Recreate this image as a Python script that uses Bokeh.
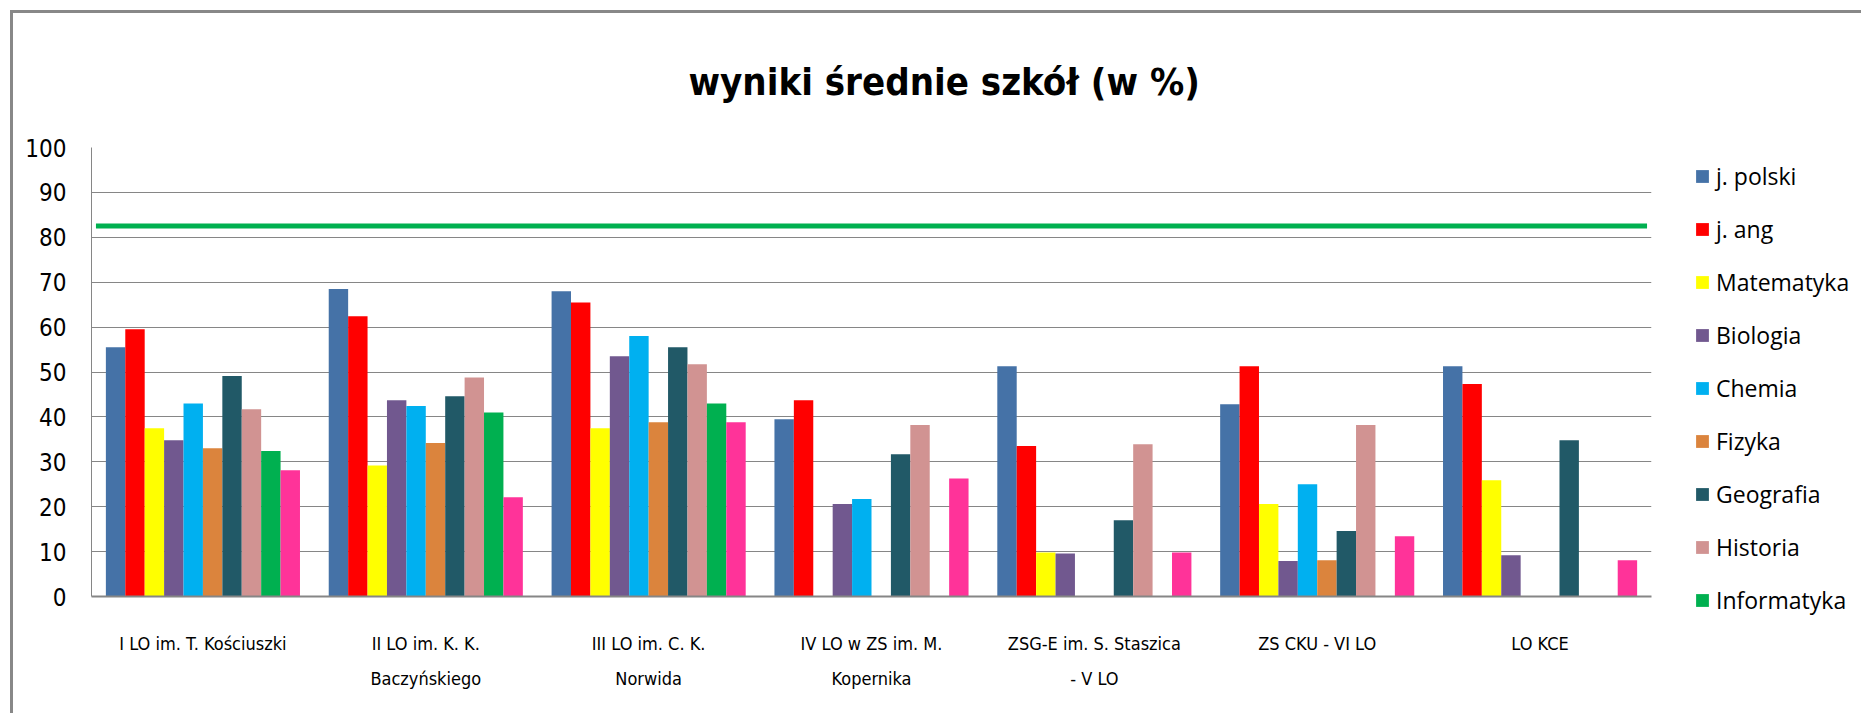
import math
from bokeh.plotting import figure
from bokeh.models import FactorRange, ColumnDataSource, Legend, LegendItem, Range1d, FixedTicker
from bokeh.transform import dodge
from bokeh.embed import file_html
from bokeh.resources import INLINE

nan = float("nan")

schools = [
    "I LO im. T. Kościuszki",
    "II LO im. K. K.\nBaczyńskiego",
    "III LO im. C. K.\nNorwida",
    "IV LO w ZS im. M.\nKopernika",
    "ZSG-E im. S. Staszica\n- V LO",
    "ZS CKU - VI LO",
    "LO KCE",
]

subjects = ["j. polski", "j. ang", "Matematyka", "Biologia", "Chemia",
            "Fizyka", "Geografia", "Historia", "Informatyka"]

j_polski    = [55.5, 68.5, 68.0, 39.5, 51.3, 42.8, 51.3]
j_ang       = [59.5, 62.4, 65.5, 43.7, 33.5, 51.3, 47.3]
matematyka  = [37.5, 29.2, 37.5, nan, 9.8, 20.6, 25.9]
biologia    = [34.8, 43.7, 53.5, 20.6, 9.6, 7.9, 9.2]
chemia      = [43.0, 42.4, 58.0, 21.7, nan, 25.0, nan]
fizyka      = [33.0, 34.2, 38.8, nan, nan, 8.1, nan]
geografia   = [49.1, 44.6, 55.5, 31.7, 17.0, 14.6, 34.8]
historia    = [41.7, 48.8, 51.7, 38.2, 33.9, 38.2, nan]
informatyka = [32.4, 41.0, 43.0, nan, nan, nan, nan]
seria_10    = [28.1, 22.1, 38.8, 26.3, 9.8, 13.4, 8.1]   # magenta series (no legend entry visible)

green_line_value = 82.5

colors = ["#4572A7", "#FF0000", "#FFFF00", "#71588F", "#00B0F0",
          "#DB843D", "#215967", "#D19392", "#00B050", "#FF3399"]

series = [j_polski, j_ang, matematyka, biologia, chemia, fizyka,
          geografia, historia, informatyka, seria_10]
keys = ["s%d" % i for i in range(len(series))]

data = {"school": schools}
for k, s in zip(keys, series):
    data[k] = s
source = ColumnDataSource(data)

NARROW = "'Liberation Sans Narrow', 'DejaVu Sans Condensed', 'Liberation Sans', sans-serif"

p = figure(
    x_range=FactorRange(*schools, range_padding=0),
    y_range=Range1d(0, 100),
    frame_width=1560, frame_height=449,
    output_backend="svg", toolbar_location=None,
    min_border_left=78, min_border_right=100,
    min_border_top=100, min_border_bottom=117,
)
p.styles = {"border-left": "3px solid #888888", "border-top": "3px solid #888888",
            "margin-left": "10px", "margin-top": "10px"}

p.title.text = "wyniki średnie szkół (w %)"
p.title.text_font = NARROW
p.title.text_font_size = "38px"
p.title.text_font_style = "bold"
p.title.text_color = "#000000"
p.title.align = "left"
p.title.offset = 590
p.title.padding = 7
p.title.standoff = 74

bw = 0.0871
renderers = []
for i, k in enumerate(keys):
    r = p.vbar(x=dodge("school", (i - 4.5) * bw, range=p.x_range), top=k, width=bw,
               source=source, fill_color=colors[i], line_color=None)
    renderers.append(r)

p.line(x=[0.02, 6.98], y=[green_line_value, green_line_value],
       line_color="#00B050", line_width=5)

items = [LegendItem(label=subjects[i], renderers=[renderers[i]]) for i in range(9)]
legend = Legend(items=items, location=(43, -20))
legend.label_text_font = "Open Sans"
legend.label_text_font_size = "23px"
legend.label_text_color = "#000000"
legend.glyph_width = 16
legend.glyph_height = 16
legend.label_height = 22
legend.spacing = 21
legend.padding = 10
legend.margin = 0
legend.label_standoff = 6
legend.border_line_color = None
legend.background_fill_alpha = 0
p.add_layout(legend, "right")

p.outline_line_color = None
p.xgrid.grid_line_color = None
p.ygrid.grid_line_color = "#868686"
p.ygrid.grid_line_width = 1
p.yaxis.ticker = FixedTicker(ticks=list(range(0, 101, 10)))
p.yaxis.major_tick_line_color = None
p.yaxis.minor_tick_line_color = None
p.yaxis.axis_line_color = "#868686"
p.yaxis.major_label_text_font = NARROW
p.yaxis.major_label_text_font_size = "24px"
p.yaxis.major_label_text_color = "#000000"
p.yaxis.major_label_standoff = 19

p.xaxis.axis_line_color = "#868686"
p.xaxis.axis_line_width = 2
p.xaxis.major_tick_line_color = None
p.xaxis.minor_tick_line_color = None
p.xaxis.major_label_text_font = NARROW
p.xaxis.major_label_text_font_size = "18px"
p.xaxis.major_label_text_color = "#000000"
p.xaxis.major_label_text_line_height = 1.7
p.xaxis.major_label_standoff = 30
p.xaxis.major_label_orientation = "horizontal"

open("out.html", "w").write(file_html(p, INLINE))
